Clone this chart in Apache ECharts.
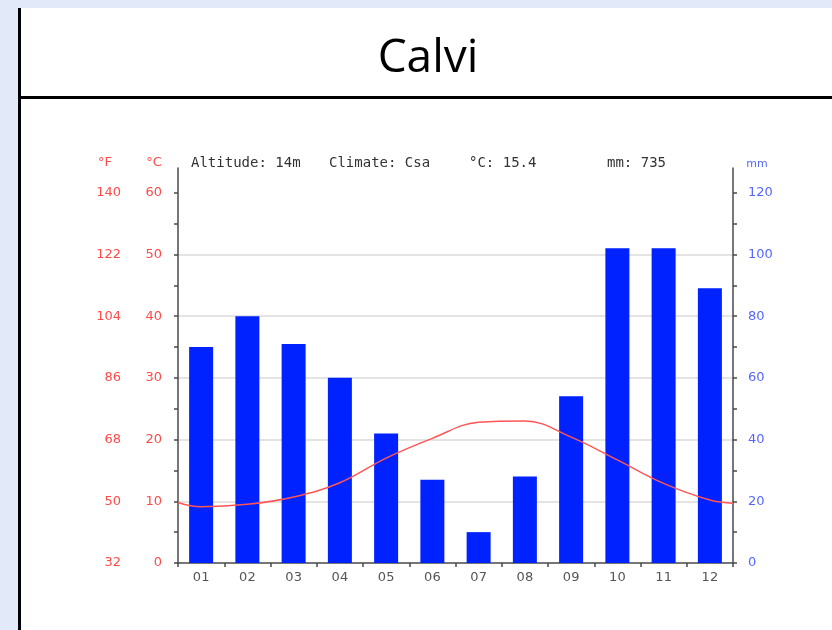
<!DOCTYPE html>
<html>
<head>
<meta charset="utf-8">
<script src="https://cdn.jsdelivr.net/npm/echarts@6/dist/echarts.min.js"></script>
<style>
html,body{margin:0;padding:0;background:#e2eafa;}
#chart{width:832px;height:630px;}
</style>
</head>
<body>
<div id="chart"></div>
<script>
// ---- data ----
const months = ['01','02','03','04','05','06','07','08','09','10','11','12'];
const precipMm = [70, 80, 71, 60, 42, 27, 10, 28, 54, 102, 102, 89];
const tempC = [9.1, 9.5, 10.7, 13.0, 17.0, 20.2, 22.8, 23.0, 20.4, 16.7, 12.9, 10.2];
const tempEdgeStart = 9.8;   // line value read at the left axis edge
const tempEdgeEnd = 9.7;     // line value read at the right axis edge
const cTicks = [0, 10, 20, 30, 40, 50, 60];
const cMinorTicks = [0, 5, 10, 15, 20, 25, 30, 35, 40, 45, 50, 55, 60];
const mmTicks = [0, 20, 40, 60, 80, 100, 120];
const mmMinorTicks = [0, 10, 20, 30, 40, 50, 60, 70, 80, 90, 100, 110, 120];
const titleText = 'Calvi';
const headerTexts = ['Altitude: 14m', 'Climate: Csa', '°C: 15.4', 'mm: 735'];

// line points placed at month centres on a hidden 0..12 value axis
const linePts = [[0, tempEdgeStart]]
  .concat(tempC.map((v, i) => [i + 0.5, v]))
  .concat([[12, tempEdgeEnd]]);

const RED = '#ff4a4a';
const BLUE = '#5566ff';
const AX = '#4a4a4a';
const mono = "'DejaVu Sans Mono', monospace";
const sans = "'DejaVu Sans', sans-serif";

const chart = echarts.init(document.getElementById('chart'), null, {renderer: 'canvas'});
chart.setOption({
  backgroundColor: '#e2eafa',
  animation: false,
  graphic: [
    {type: 'rect', z: -10, shape: {x: 21, y: 8, width: 811, height: 622}, style: {fill: '#ffffff'}},
    {type: 'rect', z: -9, shape: {x: 18, y: 8, width: 3, height: 622}, style: {fill: '#000000'}},
    {type: 'rect', z: -9, shape: {x: 18, y: 96, width: 814, height: 3}, style: {fill: '#000000'}},
    {type: 'text', x: 428, y: 59, style: {text: titleText, font: "46px 'Open Sans', sans-serif", fill: '#000', align: 'center', verticalAlign: 'middle'}},
    {type: 'text', x: 105, y: 163, style: {text: '°F', font: '13px ' + sans, fill: RED, align: 'center', verticalAlign: 'middle'}},
    {type: 'text', x: 154, y: 163, style: {text: '°C', font: '13px ' + sans, fill: RED, align: 'center', verticalAlign: 'middle'}},
    {type: 'text', x: 757, y: 164, style: {text: 'mm', font: '11px ' + sans, fill: BLUE, align: 'center', verticalAlign: 'middle'}},
    {type: 'text', x: 191, y: 163, style: {text: headerTexts[0], font: '14px ' + mono, fill: '#333', align: 'left', verticalAlign: 'middle'}},
    {type: 'text', x: 329, y: 163, style: {text: headerTexts[1], font: '14px ' + mono, fill: '#333', align: 'left', verticalAlign: 'middle'}},
    {type: 'text', x: 469, y: 163, style: {text: headerTexts[2], font: '14px ' + mono, fill: '#333', align: 'left', verticalAlign: 'middle'}},
    {type: 'text', x: 607, y: 163, style: {text: headerTexts[3], font: '14px ' + mono, fill: '#333', align: 'left', verticalAlign: 'middle'}}
  ],
  grid: {left: 178, right: 99, top: 168, bottom: 67, containLabel: false},
  xAxis: [
    {
      type: 'category', data: months, boundaryGap: true,
      axisLine: {show: true, lineStyle: {color: AX, width: 1.5}},
      axisTick: {show: true, alignWithLabel: false, length: 4, lineStyle: {color: AX, width: 1.5}},
      axisLabel: {color: '#555', fontSize: 13, fontFamily: sans, margin: 8},
      splitLine: {show: false}
    },
    {
      type: 'value', min: 0, max: 12, show: false
    }
  ],
  yAxis: [
    {
      // °C scale: labels + grid lines every 10
      type: 'value', position: 'left', min: 0, max: 64, interval: 10,
      axisLine: {show: true, lineStyle: {color: AX, width: 1.5}},
      axisTick: {show: true, length: 4, customValues: cTicks, lineStyle: {color: AX, width: 1.5}},
      axisLabel: {customValues: cTicks, color: RED, fontSize: 13, fontFamily: sans, margin: 16},
      splitLine: {show: true, showMinLine: false, showMaxLine: false, lineStyle: {color: '#e4e4e4', width: 2}}
    },
    {
      // mm scale
      type: 'value', position: 'right', min: 0, max: 128, interval: 20,
      axisLine: {show: true, lineStyle: {color: AX, width: 1.5}},
      axisTick: {show: true, length: 4, customValues: mmMinorTicks, lineStyle: {color: AX, width: 1.5}},
      axisLabel: {customValues: mmTicks, color: BLUE, fontSize: 13, fontFamily: sans, margin: 15},
      splitLine: {show: false}
    },
    {
      // °F labels
      type: 'value', position: 'left', offset: 41, min: 0, max: 64, interval: 10,
      axisLine: {show: false}, axisTick: {show: false},
      axisLabel: {customValues: cTicks, color: RED, fontSize: 13, fontFamily: sans, margin: 16,
        formatter: v => String(Math.round(v * 9 / 5 + 32))},
      splitLine: {show: false}
    },
    {
      // °C minor ticks every 5
      type: 'value', position: 'left', offset: 0, min: 0, max: 64, interval: 5,
      axisLine: {show: false},
      axisTick: {show: true, length: 4, customValues: cMinorTicks, lineStyle: {color: AX, width: 1.5}},
      axisLabel: {show: false},
      splitLine: {show: false}
    }
  ],
  series: [
    {
      type: 'bar', name: 'mm', xAxisIndex: 0, yAxisIndex: 1, data: precipMm,
      barWidth: 24, itemStyle: {color: '#0022ff'}, z: 2
    },
    {
      type: 'line', name: '°C', xAxisIndex: 1, yAxisIndex: 0, data: linePts,
      smooth: 0.4, showSymbol: false, symbol: 'none',
      lineStyle: {color: '#ff5555', width: 1.5}, z: 3
    }
  ]
});
</script>
</body>
</html>
